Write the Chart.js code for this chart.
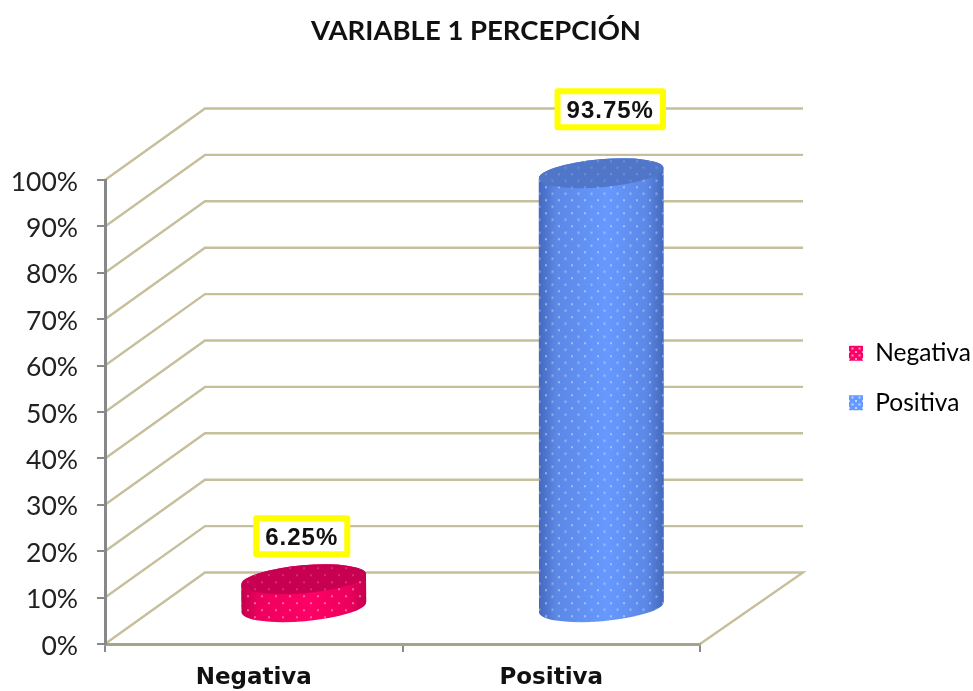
<!DOCTYPE html>
<html>
<head>
<meta charset="utf-8">
<title>VARIABLE 1 PERCEPCIÓN</title>
<script src="https://cdn.jsdelivr.net/npm/chart.js@4"></script>
<style>
  html, body { margin: 0; background: #fff; }
  canvas { display: block; }
</style>
</head>
<body>
<canvas id="myChart" width="973" height="691"></canvas>
<script>
const categories = ['Negativa', 'Positiva'];
const percentValues = [6.25, 93.75];
const valueLabels = ['6.25%', '93.75%'];
const legendColors = ['#ff0066', '#6699ff'];
const sideMidColors = ['#ee005e', '#5c88e6'];
const sideEdgeColors = ['#c4004e', '#4468bd'];
const topColors = ['#c80052', '#4f76c8'];
const dotSpacing = [14, 13];

// how far the back wall sits from the front of the plot
const depthX = 100;
const depthY = -71.5;
const wallColor = '#c6bf9b';
const ellipseHeight = 14;
const ellipseTilt = -0.085;
// label box centre, measured from the top of each bar
const labelShift = [[-2, -43], [9, -64]];

function dotPattern(spacing, base, alpha) {
  const c = document.createElement('canvas');
  c.width = spacing;
  c.height = spacing;
  const g = c.getContext('2d');
  if (base) {
    g.fillStyle = base;
    g.fillRect(0, 0, spacing, spacing);
  }
  g.fillStyle = 'rgba(255,255,255,' + alpha + ')';
  g.fillRect(1, 1, 2, 2);
  g.fillRect(1 + spacing / 2, 1 + spacing / 2, 2, 2);
  return document.getElementById('myChart').getContext('2d').createPattern(c, 'repeat');
}

function sideGradient(ctx, bar, i) {
  const half = bar.width / 2;
  const grad = ctx.createLinearGradient(bar.x - half, 0, bar.x + half, 0);
  grad.addColorStop(0, sideEdgeColors[i]);
  grad.addColorStop(0.14, sideMidColors[i]);
  grad.addColorStop(0.55, legendColors[i]);
  grad.addColorStop(0.86, sideMidColors[i]);
  grad.addColorStop(1, sideEdgeColors[i]);
  return grad;
}

function cylinderPath(ctx, bar) {
  const half = bar.width / 2;
  const t = Math.tan(ellipseTilt) * half;
  ctx.moveTo(bar.x - half, bar.y - t);
  ctx.ellipse(bar.x, bar.y, half, ellipseHeight, ellipseTilt, Math.PI, Math.PI * 2);
  ctx.lineTo(bar.x + half, bar.base + t);
  ctx.ellipse(bar.x, bar.base, half, ellipseHeight, ellipseTilt, 0, Math.PI);
  ctx.closePath();
}

const walls3d = {
  id: 'walls3d',
  afterLayout(chart) {
    const title = chart.titleBlock;
    title.left = 0;
    title.right = 952;
    const legend = chart.legend;
    const pad = legend.options.labels.padding;
    legend.left = 849 - pad;
    legend.right = legend.left + legend.width;
    legend.top = 341 - pad;
    legend.bottom = legend.top + legend.height;
    legend.adjustHitBoxes();
  },
  beforeDraw(chart) {
    const ctx = chart.ctx;
    const area = chart.chartArea;
    const y = chart.scales.y;
    ctx.save();
    ctx.strokeStyle = wallColor;
    ctx.lineWidth = 2.4;
    y.ticks.forEach(t => {
      const py = y.getPixelForValue(t.value);
      ctx.beginPath();
      ctx.moveTo(area.left, py);
      ctx.lineTo(area.left + depthX, py + depthY);
      ctx.lineTo(area.right + depthX + 3, py + depthY);
      if (t.value === 0) ctx.lineTo(area.right, py);
      ctx.stroke();
    });
    ctx.restore();
  },
  beforeDatasetsDraw(chart) {
    const ctx = chart.ctx;
    ctx.save();
    ctx.translate(depthX / 2, depthY / 2);
    ctx.beginPath();
    chart.getDatasetMeta(0).data.forEach(bar => cylinderPath(ctx, bar));
    ctx.clip();
  },
  afterDatasetsDraw(chart) {
    const ctx = chart.ctx;
    ctx.restore();
    chart.getDatasetMeta(0).data.forEach((bar, i) => {
      ctx.save();
      ctx.translate(depthX / 2, depthY / 2);
      ctx.beginPath();
      cylinderPath(ctx, bar);
      ctx.fillStyle = sideGradient(ctx, bar, i);
      ctx.fill();
      ctx.fillStyle = dotPattern(dotSpacing[i], null, 0.4);
      ctx.fill();
      ctx.beginPath();
      ctx.ellipse(bar.x, bar.y, bar.width / 2, ellipseHeight, ellipseTilt, 0, Math.PI * 2);
      ctx.fillStyle = topColors[i];
      ctx.fill();
      ctx.fillStyle = dotPattern(dotSpacing[i], null, 0.18);
      ctx.fill();

      // value label in its yellow box
      const lx = bar.x + labelShift[i][0];
      const ly = bar.y + labelShift[i][1];
      ctx.font = 'bold 24px "Liberation Sans"';
      ctx.letterSpacing = '1px';
      const w = ctx.measureText(valueLabels[i]).width + 18;
      ctx.fillStyle = '#fff';
      ctx.strokeStyle = '#ffff00';
      ctx.lineWidth = 6;
      ctx.lineJoin = 'round';
      ctx.beginPath();
      ctx.rect(lx - w / 2, ly - 18, w, 36);
      ctx.fill();
      ctx.stroke();
      ctx.fillStyle = '#111';
      ctx.textAlign = 'center';
      ctx.textBaseline = 'middle';
      ctx.fillText(valueLabels[i], lx, ly + 2);
      ctx.restore();
    });
  }
};

var myChart = new Chart(
  document.getElementById('myChart'),
  {
    type: 'bar',
    data: {
      labels: categories,
      datasets: [{
        label: 'Percepción',
        data: percentValues,
        backgroundColor: legendColors,
        categoryPercentage: 1,
        barPercentage: 0.42
      }]
    },
    options: {
      responsive: false,
      animation: false,
      layout: { padding: { right: 273 } },
      scales: {
        x: {
          afterFit: s => { s.height = 47; },
          border: { color: '#a5a28e', width: 3 },
          grid: { drawOnChartArea: false, color: '#8a8a8a', lineWidth: 2, tickLength: 8 },
          ticks: { color: '#111', padding: 12, font: { family: 'DejaVu Sans', weight: 'bold', size: 23 } }
        },
        y: {
          min: 0,
          max: 100,
          afterFit: s => { s.width = 105; },
          border: { color: '#888888', width: 3 },
          grid: { drawOnChartArea: false, color: '#888888', lineWidth: 2, tickLength: 8 },
          ticks: {
            stepSize: 10,
            color: '#222',
            padding: 19,
            labelOffset: 2,
            font: { family: 'Lato', size: 26.5 },
            callback: v => v + '%'
          }
        }
      },
      plugins: {
        title: {
          display: true,
          text: 'VARIABLE 1 PERCEPCIÓN',
          color: '#111',
          font: { family: 'Lato', weight: 'bold', size: 27.5 },
          padding: { top: 15, bottom: 132 }
        },
        legend: {
          position: 'chartArea',
          align: 'start',
          labels: {
            color: '#222',
            font: { family: 'Lato', size: 24.5 },
            boxWidth: 14,
            boxHeight: 15,
            padding: 25,
            generateLabels: () => categories.map((name, i) => ({
              text: name,
              fillStyle: dotPattern(7, legendColors[i], 0.6),
              strokeStyle: 'rgba(0,0,0,0)',
              lineWidth: 0,
              index: i
            }))
          }
        },
        tooltip: { enabled: false }
      }
    },
    plugins: [walls3d]
  }
);
</script>
</body>
</html>
